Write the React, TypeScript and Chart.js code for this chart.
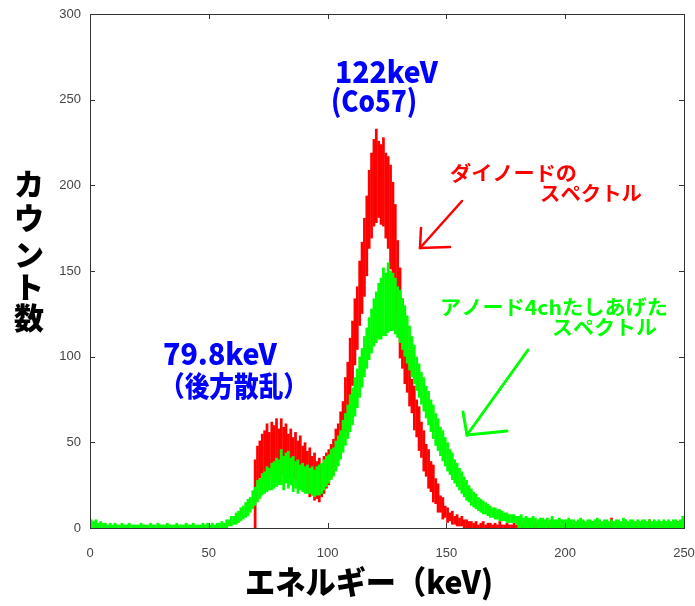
import React, { useEffect, useRef } from "react";
import { Chart, registerables } from "chart.js";

Chart.register(...registerables);

// Energy axis (keV), 1 keV bins
const X_MIN = 0;
const X_MAX = 250;
const X_TICKS = [0, 50, 100, 150, 200, 250];
const Y_TICKS = [0, 50, 100, 150, 200, 250, 300];

// Dynode spectrum (red): per-bin upper / lower envelope of counts, starting at 69 keV
const RED_START_KEV = 69;
const RED_HIGH = [
  40,
  48, 51, 55, 57, 61, 56, 62, 60, 64, 58,
  64, 59, 61, 55, 58, 53, 56, 51, 54, 48,
  50, 45, 47, 42, 44, 39, 41, 36, 42, 44,
  46, 49, 52, 58, 61, 68, 74, 88, 97, 111,
  121, 134, 141, 156, 167, 181, 194, 209, 219, 227,
  233, 226, 224, 228, 219, 217, 212, 202, 189, 168,
  152, 134, 119, 104, 95, 87, 83, 75, 71, 62,
  57, 49, 46, 39, 37, 29, 26, 19, 18, 13,
  12, 9, 10, 7, 8, 6, 7, 5, 5, 4,
  4, 3, 4, 2, 3, 4, 2, 3, 3, 2,
  3, 2, 4, 2, 2, 3, 2, 2, 3, 2,
  2, 3, 2, 2, 5, 2, 2, 3, 2, 2,
  2, 2, 3, 2, 2, 2, 4, 2, 2, 2,
  3, 2, 2, 2, 2, 3, 2, 2, 2, 2,
  2, 4, 2, 2, 2, 2, 3, 2, 2, 6,
  2, 2, 2, 3, 2, 2, 2, 2, 4, 2,
  2, 2, 3, 2, 2, 5, 2, 2, 2, 3,
  2, 2, 2, 2, 3, 2, 2, 4, 2, 5,
];
const RED_LOW = [
  0,
  25, 29, 27, 31, 29, 32, 31, 33, 31, 34,
  32, 31, 33, 29, 31, 28, 29, 27, 26, 25,
  22, 21, 18, 19, 16, 17, 15, 18, 20, 23,
  25, 29, 31, 37, 40, 46, 50, 56, 62, 73,
  83, 95, 104, 118, 125, 135, 147, 163, 169, 176,
  178, 181, 177, 176, 169, 163, 151, 141, 124, 113,
  99, 93, 84, 79, 71, 67, 57, 53, 45, 41,
  33, 30, 23, 21, 15, 14, 9, 9, 5, 6,
  3, 4, 2, 2, 1, 1, 1, 0, 0, 0,
  0, 0, 0, 0, 0, 0, 0, 0, 0, 0,
  0, 0, 0, 0, 0, 0, 0, 0, 0, 0,
  0, 0, 0, 0, 0, 0, 0, 0, 0, 0,
  0, 0, 0, 0, 0, 0, 0, 0, 0, 0,
  0, 0, 0, 0, 0, 0, 0, 0, 0, 0,
  0, 0, 0, 0, 0, 0, 0, 0, 0, 0,
  0, 0, 0, 0, 0, 0, 0, 0, 0, 0,
  0, 0, 0, 0, 0, 0, 0, 0, 0, 0,
  0, 0, 0, 0, 0, 0, 0, 0, 0, 0,
];

// Anode 4ch summed spectrum (green): per-bin upper / lower envelope, from 0 keV
const GREEN_HIGH = [
  5, 4, 5, 3, 4, 3, 3, 2, 3, 2,
  3, 2, 2, 3, 2, 2, 3, 2, 2, 2,
  2, 3, 2, 2, 2, 3, 2, 2, 3, 2,
  2, 2, 3, 2, 2, 2, 3, 2, 2, 2,
  3, 2, 2, 3, 2, 2, 2, 3, 2, 3,
  2, 3, 2, 3, 3, 4, 3, 5, 5, 7,
  7, 9, 10, 12, 13, 15, 17, 18, 22, 24,
  28, 29, 32, 33, 36, 35, 38, 39, 41, 40,
  46, 42, 44, 45, 41, 42, 39, 40, 37, 38,
  36, 37, 35, 36, 34, 36, 37, 38, 40, 42,
  43, 46, 47, 51, 54, 57, 63, 67, 72, 78,
  82, 88, 93, 100, 105, 112, 117, 123, 128, 134,
  138, 143, 146, 152, 149, 155, 150, 149, 146, 141,
  139, 134, 130, 124, 118, 112, 107, 100, 96, 91,
  88, 83, 80, 75, 72, 67, 64, 59, 57, 53,
  50, 46, 44, 40, 38, 35, 33, 30, 28, 25,
  23, 21, 20, 18, 17, 16, 15, 14, 13, 12,
  12, 11, 11, 10, 9, 9, 8, 8, 8, 7,
  7, 8, 6, 7, 6, 6, 7, 6, 5, 6,
  6, 5, 6, 5, 7, 5, 5, 6, 5, 5,
  5, 6, 5, 5, 4, 5, 6, 5, 4, 5,
  5, 4, 5, 6, 5, 4, 5, 5, 4, 5,
  4, 5, 5, 4, 6, 5, 4, 5, 5, 4,
  5, 4, 5, 5, 4, 5, 4, 5, 4, 5,
  4, 5, 4, 5, 4, 5, 5, 4, 5, 7,
];
const GREEN_LOW = [
  0, 0, 0, 0, 0, 0, 0, 0, 0, 0,
  0, 0, 0, 0, 0, 0, 0, 0, 0, 0,
  0, 0, 0, 0, 0, 0, 0, 0, 0, 0,
  0, 0, 0, 0, 0, 0, 0, 0, 0, 0,
  0, 0, 0, 0, 0, 0, 0, 0, 0, 0,
  0, 0, 0, 0, 0, 0, 0, 0, 1, 1,
  2, 2, 3, 4, 5, 6, 7, 9, 11, 13,
  15, 17, 19, 20, 21, 22, 22, 23, 24, 25,
  25, 22, 26, 23, 25, 21, 23, 20, 22, 21,
  20, 20, 20, 19, 18, 19, 19, 20, 22, 24,
  26, 28, 30, 33, 36, 40, 44, 48, 52, 56,
  60, 65, 70, 76, 82, 88, 93, 98, 102, 106,
  108, 110, 110, 112, 112, 114, 115, 115, 113, 111,
  108, 104, 100, 96, 92, 88, 84, 80, 76, 72,
  68, 64, 60, 56, 52, 48, 45, 42, 39, 36,
  33, 31, 28, 26, 24, 22, 20, 18, 16, 15,
  13, 12, 11, 10, 9, 8, 8, 7, 6, 6,
  5, 5, 4, 4, 4, 3, 3, 3, 3, 2,
  0, 0, 0, 0, 0, 0, 0, 0, 0, 0,
  0, 0, 0, 0, 0, 0, 0, 0, 0, 0,
  0, 0, 0, 0, 0, 0, 0, 0, 0, 0,
  0, 0, 0, 0, 0, 0, 0, 0, 0, 0,
  0, 0, 0, 0, 0, 0, 0, 0, 0, 0,
  0, 0, 0, 0, 0, 0, 0, 0, 0, 0,
  0, 0, 0, 0, 0, 0, 0, 0, 0, 0,
];

const Y_TITLE_CHARS = ["カ", "ウ", "ン", "ト", "数"];
const X_TITLE = "エネルギー（keV)";

const RED = "#ff0000";
const GREEN = "#00ff00";
const BLUE = "#0000ff";

function bins(start: number, hi: number[], lo: number[]) {
  return hi.map((h, i) => ({ x: start + i + 0.5, y: [lo[i], h] }));
}

function drawFit(
  ctx: CanvasRenderingContext2D,
  text: string,
  left: number,
  cy: number,
  width: number,
  font: string,
  color: string
) {
  ctx.save();
  ctx.font = font;
  ctx.fillStyle = color;
  ctx.textBaseline = "middle";
  ctx.textAlign = "left";
  const w = ctx.measureText(text).width;
  ctx.translate(left, cy);
  ctx.scale(width / w, 1);
  ctx.fillText(text, 0, 0);
  ctx.restore();
}

function arrow(
  ctx: CanvasRenderingContext2D,
  color: string,
  lw: number,
  segs: number[][]
) {
  ctx.save();
  ctx.strokeStyle = color;
  ctx.lineWidth = lw;
  ctx.lineCap = "round";
  for (const s of segs) {
    ctx.beginPath();
    ctx.moveTo(s[0], s[1]);
    ctx.lineTo(s[2], s[3]);
    ctx.stroke();
  }
  ctx.restore();
}

const framePlugin = {
  id: "frameAndNotes",
  afterDatasetsDraw(chart: any) {
    const { ctx, chartArea } = chart;
    const { left, right, top, bottom } = chartArea;
    const xs = chart.scales.x;
    const ys = chart.scales.y;
    ctx.save();
    ctx.strokeStyle = "#333";
    ctx.lineWidth = 1;
    ctx.strokeRect(Math.round(left) + 0.5, Math.round(top) + 0.5, Math.round(right - left), Math.round(bottom - top));
    ctx.beginPath();
    for (const v of X_TICKS) {
      const p = Math.round(xs.getPixelForValue(v)) + 0.5;
      ctx.moveTo(p, bottom);
      ctx.lineTo(p, bottom - 5);
      ctx.moveTo(p, top);
      ctx.lineTo(p, top + 5);
    }
    for (const v of Y_TICKS) {
      const p = Math.round(ys.getPixelForValue(v)) + 0.5;
      ctx.moveTo(left, p);
      ctx.lineTo(left + 5, p);
      ctx.moveTo(right, p);
      ctx.lineTo(right - 5, p);
    }
    ctx.stroke();
    ctx.restore();
  },
  afterDraw(chart: any) {
    const ctx = chart.ctx as CanvasRenderingContext2D;
    const jp = '"Noto Sans CJK JP", sans-serif';
    // blue annotations
    drawFit(ctx, "122keV", 335, 72, 103, `900 30px ${jp}`, BLUE);
    drawFit(ctx, "(Co57)", 331, 101, 86, `900 30px ${jp}`, BLUE);
    drawFit(ctx, "79.8keV", 163, 354, 114, `900 30px ${jp}`, BLUE);
    drawFit(ctx, "（後方散乱）", 160, 386, 148, `900 28px ${jp}`, BLUE);
    // red annotation
    drawFit(ctx, "ダイノードの", 450, 173, 127, `bold 20px ${jp}`, RED);
    drawFit(ctx, "スペクトル", 540, 193, 102, `bold 20px ${jp}`, RED);
    arrow(ctx, RED, 2.5, [
      [462, 201, 420, 248],
      [420, 248, 421, 228],
      [420, 248, 450, 247],
    ]);
    // green annotation
    drawFit(ctx, "アノード4chたしあげた", 440, 307, 228, `bold 20px ${jp}`, GREEN);
    drawFit(ctx, "スペクトル", 552, 327, 105, `bold 20px ${jp}`, GREEN);
    arrow(ctx, GREEN, 3, [
      [528, 350, 467, 435],
      [467, 435, 463, 412],
      [467, 435, 507, 431],
    ]);
    // axis titles
    const yCenters = [184, 218, 255, 287, 318];
    Y_TITLE_CHARS.forEach((ch, i) => {
      ctx.save();
      ctx.font = `900 30px ${jp}`;
      ctx.fillStyle = "#000";
      ctx.textAlign = "center";
      ctx.textBaseline = "middle";
      ctx.fillText(ch, 29, yCenters[i]);
      ctx.restore();
    });
    drawFit(ctx, X_TITLE, 245, 582, 248, `900 32px ${jp}`, "#000");
  },
};

export default function App() {
  const ref = useRef<HTMLCanvasElement | null>(null);
  useEffect(() => {
    document.body.style.margin = "0";
    const canvas = ref.current!;
    const chart = new Chart(canvas, {
      type: "bar",
      data: {
        datasets: [
          {
            label: "アノード4chたしあげたスペクトル",
            data: bins(0, GREEN_HIGH, GREEN_LOW) as any,
            backgroundColor: GREEN,
            borderWidth: 0,
            grouped: false,
            order: 0,
            barPercentage: 1.15,
            categoryPercentage: 1,
          } as any,
          {
            label: "ダイノードのスペクトル",
            data: bins(RED_START_KEV, RED_HIGH, RED_LOW) as any,
            backgroundColor: RED,
            borderWidth: 0,
            grouped: false,
            order: 1,
            barPercentage: 1.15,
            categoryPercentage: 1,
          } as any,
        ],
      },
      options: {
        responsive: false,
        animation: false,
        devicePixelRatio: 1,
        layout: { padding: { left: 0, top: 14, right: 11, bottom: 0 } },
        plugins: { legend: { display: false }, tooltip: { enabled: false } },
        scales: {
          x: {
            type: "linear",
            min: X_MIN,
            max: X_MAX,
            offset: false,
            grid: { display: false, drawTicks: false },
            border: { display: false },
            afterFit: (s: any) => {
              s.height = 78;
              s.paddingLeft = 0;
              s.paddingRight = 0;
            },
            afterBuildTicks: (s: any) => {
              s.ticks = X_TICKS.map((v) => ({ value: v }));
            },
            ticks: {
              padding: 18,
              color: "#444",
              font: { family: '"Liberation Sans Narrow", "Liberation Sans", sans-serif', size: 13 },
            },
          },
          y: {
            min: 0,
            max: 300,
            grid: { display: false, drawTicks: false },
            border: { display: false },
            afterFit: (s: any) => {
              s.width = 90;
              s.paddingTop = 0;
              s.paddingBottom = 0;
            },
            afterBuildTicks: (s: any) => {
              s.ticks = Y_TICKS.map((v) => ({ value: v }));
            },
            ticks: {
              padding: 9,
              color: "#444",
              font: { family: '"Liberation Sans Narrow", "Liberation Sans", sans-serif', size: 13 },
            },
          },
        },
      },
      plugins: [framePlugin],
    });
    return () => chart.destroy();
  }, []);
  return (
    <canvas
      ref={ref}
      width={695}
      height={606}
      style={{ display: "block", width: 695, height: 606 }}
    />
  );
}
